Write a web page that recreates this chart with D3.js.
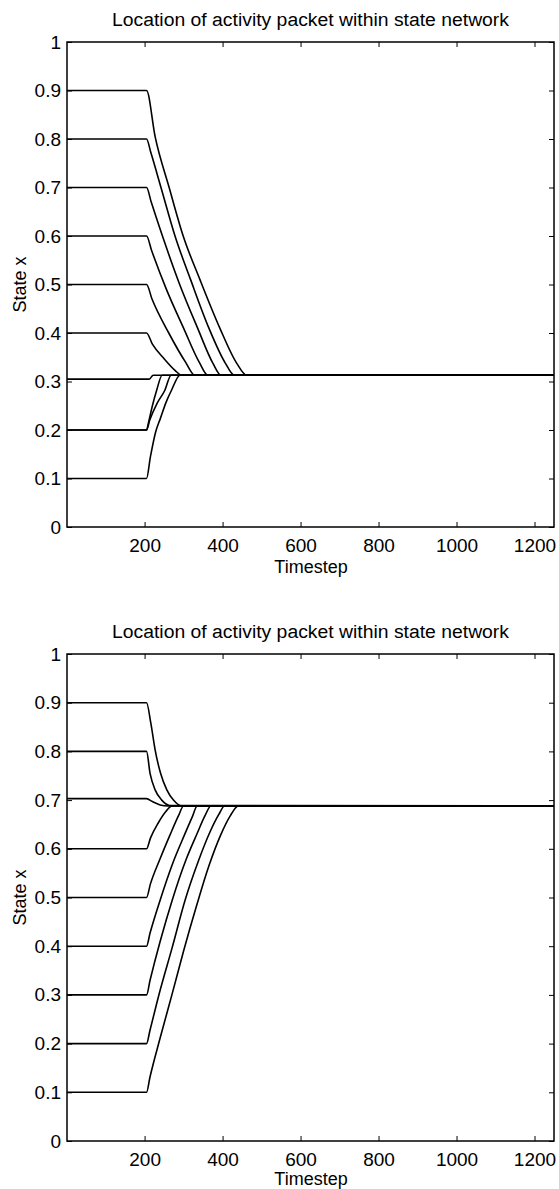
<!DOCTYPE html>
<html>
<head>
<meta charset="utf-8">
<script src="https://cdn.jsdelivr.net/npm/d3@7"></script>
<style>
  body { margin: 0; background: #fff; }
  svg { display: block; }
  text { font-family: "Liberation Sans", Arial, Helvetica, sans-serif; fill: #000; }
  .tick line { stroke: #000; }
</style>
</head>
<body>
<svg width="559" height="1189"></svg>
<script>
// tick values
const xTicks = [200, 400, 600, 800, 1000, 1200];
const yTicks = [0, 0.1, 0.2, 0.3, 0.4, 0.5, 0.6, 0.7, 0.8, 0.9, 1];

// top panel: packet settles near 0.313  ([timestep, state])
const top09 = [[1, 0.9], [205, 0.9], [227, 0.805], [263, 0.70], [299, 0.60], [342, 0.51], [393, 0.41], [436, 0.338], [462, 0.313], [1250, 0.313]];
const top08 = [[1, 0.8], [205, 0.8], [216, 0.772], [242, 0.70], [278, 0.60], [318, 0.51], [365, 0.41], [407, 0.338], [430, 0.313], [1250, 0.313]];
const top07 = [[1, 0.7], [205, 0.7], [217, 0.67], [250, 0.59], [290, 0.50], [336, 0.41], [375, 0.338], [396, 0.313], [1250, 0.313]];
const top06 = [[1, 0.6], [205, 0.6], [218, 0.57], [256, 0.49], [300, 0.41], [340, 0.34], [362, 0.313], [1250, 0.313]];
const top05 = [[1, 0.5], [205, 0.5], [219, 0.47], [262, 0.40], [305, 0.34], [329, 0.313], [1250, 0.313]];
const top04 = [[1, 0.4], [205, 0.4], [220, 0.377], [250, 0.347], [278, 0.323], [295, 0.313], [1250, 0.313]];
const top03 = [[1, 0.305], [212, 0.305], [222, 0.313], [1250, 0.313]];
const top02a = [[1, 0.2], [205, 0.2], [210, 0.215], [220, 0.25], [231, 0.282], [245, 0.313], [1250, 0.313]];
const top02 = [[1, 0.2], [205, 0.2], [213, 0.22], [232, 0.255], [252, 0.282], [268, 0.313], [1250, 0.313]];
const top01 = [[1, 0.1], [205, 0.1], [215, 0.145], [228, 0.195], [241, 0.225], [255, 0.257], [269, 0.282], [291, 0.313], [1250, 0.313]];

// bottom panel: packet settles near 0.688
const bot09 = [[1, 0.9], [205, 0.9], [216, 0.858], [227, 0.803], [241, 0.755], [257, 0.721], [274, 0.70], [295, 0.688], [1250, 0.688]];
const bot08 = [[1, 0.8], [205, 0.8], [214, 0.755], [227, 0.721], [244, 0.70], [265, 0.689], [1250, 0.688]];
const bot07 = [[1, 0.703], [205, 0.703], [220, 0.697], [240, 0.69], [260, 0.688], [1250, 0.688]];
const bot06 = [[1, 0.6], [205, 0.6], [215, 0.622], [235, 0.653], [255, 0.677], [270, 0.688], [1250, 0.688]];
const bot05 = [[1, 0.5], [205, 0.5], [215, 0.528], [240, 0.58], [265, 0.628], [287, 0.668], [300, 0.688], [1250, 0.688]];
const bot04 = [[1, 0.4], [205, 0.4], [214, 0.427], [240, 0.495], [272, 0.57], [302, 0.628], [322, 0.665], [335, 0.688], [1250, 0.688]];
const bot03 = [[1, 0.3], [205, 0.3], [214, 0.33], [240, 0.41], [271, 0.495], [305, 0.575], [335, 0.632], [355, 0.668], [370, 0.688], [1250, 0.688]];
const bot02 = [[1, 0.2], [205, 0.2], [214, 0.228], [240, 0.31], [270, 0.395], [304, 0.495], [338, 0.575], [368, 0.635], [390, 0.67], [405, 0.688], [1250, 0.688]];
const bot01 = [[1, 0.1], [205, 0.1], [214, 0.132], [240, 0.212], [270, 0.3], [300, 0.39], [334, 0.485], [365, 0.565], [395, 0.628], [420, 0.668], [440, 0.688], [1250, 0.688]];

const topSeries = [top09, top08, top07, top06, top05, top04, top03, top02a, top02, top01];
const botSeries = [bot09, bot08, bot07, bot06, bot05, bot04, bot03, bot02, bot01];

const svg = d3.select("svg");
const left = 67, right = 554;

const x = d3.scaleLinear().domain([1, 1250]).range([left, right]);

function drawPanel(series, top, bottom, titleY, labelY) {
    const y = d3.scaleLinear().domain([0, 1]).range([bottom, top]);
    const g = svg.append("g");

    // inward ticks on all four sides, like a boxed matlab plot
    g.append("g")
        .attr("transform", `translate(0,${bottom})`)
        .call(d3.axisBottom(x).tickValues(xTicks).tickSize(-5).tickPadding(12).tickSizeOuter(0).tickFormat(d3.format("d")))
        .call(a => a.select(".domain").remove())
        .selectAll("text").style("font-size", "19px");
    g.append("g")
        .attr("transform", `translate(0,${top})`)
        .call(d3.axisTop(x).tickValues(xTicks).tickSize(-5).tickFormat("").tickSizeOuter(0))
        .call(a => a.select(".domain").remove());
    g.append("g")
        .attr("transform", `translate(${left},0)`)
        .call(d3.axisLeft(y).tickValues(yTicks).tickSize(-5).tickPadding(6).tickSizeOuter(0).tickFormat(d3.format("~g")))
        .call(a => a.select(".domain").remove())
        .selectAll("text").style("font-size", "19px");
    g.append("g")
        .attr("transform", `translate(${right},0)`)
        .call(d3.axisRight(y).tickValues(yTicks).tickSize(-5).tickFormat("").tickSizeOuter(0))
        .call(a => a.select(".domain").remove());

    const line = d3.line()
        .x(d => x(d[0]))
        .y(d => y(d[1]))
        .curve(d3.curveMonotoneX);

    g.selectAll("path.trace")
        .data(series)
        .join("path")
        .attr("class", "trace")
        .attr("d", line)
        .attr("fill", "none")
        .attr("stroke", "#000")
        .attr("stroke-width", 1.6);

    g.append("rect")
        .attr("x", left)
        .attr("y", top)
        .attr("width", right - left)
        .attr("height", bottom - top)
        .attr("fill", "none")
        .attr("stroke", "#000")
        .attr("stroke-width", 1.5);

    g.append("text")
        .attr("x", (left + right) / 2)
        .attr("y", titleY)
        .attr("text-anchor", "middle")
        .attr("textLength", 397)
        .attr("lengthAdjust", "spacingAndGlyphs")
        .style("font-size", "18px")
        .text("Location of activity packet within state network");

    g.append("text")
        .attr("x", 311)
        .attr("y", labelY)
        .attr("text-anchor", "middle")
        .style("font-size", "18px")
        .text("Timestep");

    g.append("text")
        .attr("transform", `translate(26,${(top + bottom) / 2}) rotate(-90)`)
        .attr("text-anchor", "middle")
        .style("font-size", "18px")
        .text("State x");
}

drawPanel(topSeries, 42, 527, 26, 573);
drawPanel(botSeries, 654, 1141, 638, 1185);
</script>
</body>
</html>
